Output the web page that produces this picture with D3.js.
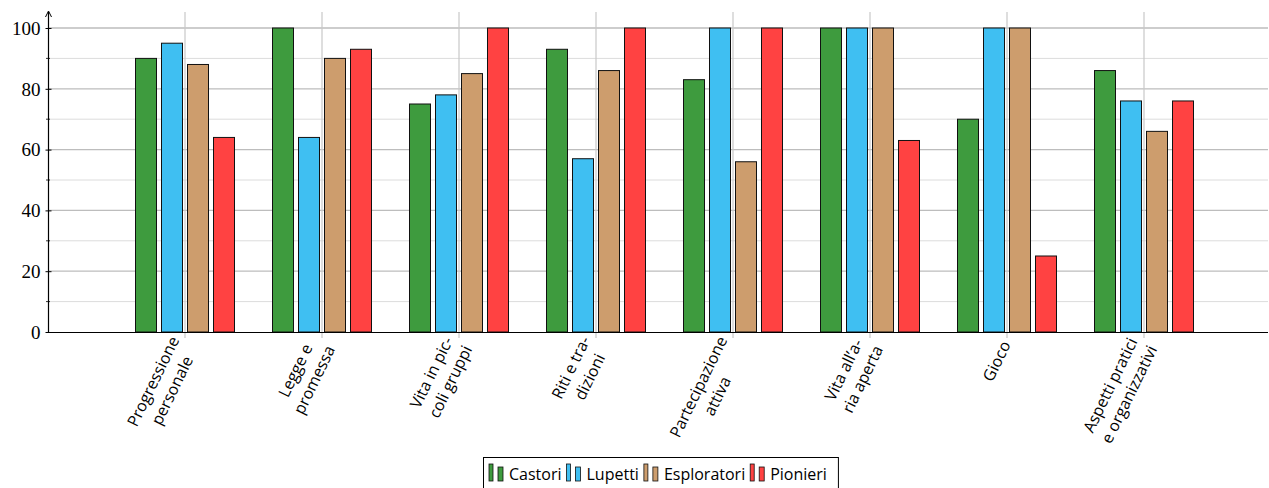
<!DOCTYPE html>
<html><head><meta charset="utf-8">
<script src="https://cdn.jsdelivr.net/npm/d3@7"></script>
<style>body{margin:0;background:#fff}svg{display:block}</style>
</head><body>
<svg id="c" width="1269" height="488"></svg>
<script>
const categories = [
  ["Progressione","personale"],
  ["Legge e","promessa"],
  ["Vita in pic-","coli gruppi"],
  ["Riti e tra-","dizioni"],
  ["Partecipazione","attiva"],
  ["Vita all’a-","ria aperta"],
  ["Gioco"],
  ["Aspetti pratici","e organizzativi"]
];
const seriesNames = ["Castori","Lupetti","Esploratori","Pionieri"];
const castori     = [90, 100, 75, 93, 83, 100, 70, 86];
const lupetti     = [95, 64, 78, 57, 100, 100, 100, 76];
const esploratori = [88, 90, 85, 86, 56, 100, 100, 66];
const pionieri    = [64, 93, 100, 100, 100, 63, 25, 76];
const yTicks = [0, 20, 40, 60, 80, 100];
const yMinor = [10, 30, 50, 70, 90];

(function(){
const series = [castori, lupetti, esploratori, pionieri];
const colors = ["#3e9b3e", "#3fbff2", "#cd9d6d", "#ff4242"];

const svg = d3.select("#c");
const pL = 48, pR = 1268, pT = 28, pB = 332;
const x = d3.scaleLinear().domain([-1, 8]).range([pL, pL + 137 * 9]);
const y = d3.scaleLinear().domain([0, 100]).range([pB, pT]);

svg.append("g").selectAll("line").data(yMinor).join("line")
  .attr("x1", pL).attr("x2", pR).attr("y1", d => y(d)).attr("y2", d => y(d))
  .attr("stroke", "#dcdcdc").attr("stroke-width", 1);
svg.append("g").selectAll("line").data(yTicks.filter(d => d > 0)).join("line")
  .attr("x1", pL).attr("x2", pR).attr("y1", d => y(d)).attr("y2", d => y(d))
  .attr("stroke", "#bdbdbd").attr("stroke-width", 1.3);
svg.append("g").selectAll("line").data(d3.range(categories.length)).join("line")
  .attr("x1", d => x(d)).attr("x2", d => x(d)).attr("y1", 12).attr("y2", pB + 6)
  .attr("stroke", "#c8c8c8").attr("stroke-width", 1.2);

const bw = 21, stride = 26;
const offsets = [-1.5, -0.5, 0.5, 1.5];
series.forEach((vals, s) => {
  svg.append("g").selectAll("rect").data(vals).join("rect")
    .attr("x", (d, i) => x(i) + offsets[s] * stride - bw / 2)
    .attr("y", d => y(d))
    .attr("width", bw)
    .attr("height", d => y(0) - y(d))
    .attr("fill", colors[s])
    .attr("stroke", "#111").attr("stroke-width", 1);
});

const yAxis = d3.axisLeft(y).tickValues(yTicks).tickSize(3).tickFormat(d3.format("d"));
const ga = svg.append("g").attr("transform", `translate(${pL + 0.5},0)`).call(yAxis);
ga.select(".domain").remove();
ga.selectAll(".tick line").attr("x2", 3).attr("x1", -3).attr("stroke", "#000");
ga.selectAll(".tick text").attr("x", -8).attr("dy", "0.33em")
  .attr("font-family", "'Liberation Serif', 'DejaVu Serif', serif").attr("font-size", 19).attr("fill", "#000");
svg.append("g").selectAll("line").data(yMinor).join("line")
  .attr("x1", pL - 2).attr("x2", pL + 2).attr("y1", d => y(d)).attr("y2", d => y(d))
  .attr("stroke", "#000").attr("stroke-width", 0.8);

svg.append("line").attr("x1", pL + 0.5).attr("x2", pL + 0.5).attr("y1", pB).attr("y2", 12)
  .attr("stroke", "#000").attr("stroke-width", 1.2);
svg.append("path").attr("d", `M${pL - 2.5},${17} L${pL + 0.5},${11} L${pL + 3.5},${17}`)
  .attr("fill", "none").attr("stroke", "#000").attr("stroke-width", 1);
svg.append("line").attr("x1", pL).attr("x2", pR).attr("y1", pB + 0.5).attr("y2", pB + 0.5)
  .attr("stroke", "#000").attr("stroke-width", 1.2);

// category labels: rotated, anchor = east-middle of the text block at the tick
const fs = 16, lh = 21;
categories.forEach((lines, i) => {
  const g = svg.append("g").attr("transform", `translate(${x(i) - 1},${pB + 10}) rotate(-64)`);
  const n = lines.length;
  const texts = lines.map((t, k) => g.append("text").text(t)
    .attr("font-family", "'Open Sans', sans-serif").attr("font-size", fs).attr("fill", "#000")
    .attr("text-anchor", "middle").attr("dy", "0.35em").attr("y", (k - (n - 1) / 2) * lh));
  const w = d3.max(texts, t => t.node().getComputedTextLength());
  texts.forEach(t => t.attr("x", -w / 2));
});

const lg = svg.append("g");
let cx = 489;
seriesNames.forEach((n, s) => {
  const gi = lg.append("g");
  gi.append("rect").attr("x", cx).attr("y", 464).attr("width", 4).attr("height", 17)
    .attr("fill", colors[s]).attr("stroke", "#111").attr("stroke-width", 0.8);
  gi.append("rect").attr("x", cx + 9).attr("y", 467).attr("width", 5).attr("height", 14)
    .attr("fill", colors[s]).attr("stroke", "#111").attr("stroke-width", 0.8);
  const t = gi.append("text").text(n).attr("x", cx + 20).attr("y", 480)
    .attr("font-family", "'Open Sans', sans-serif").attr("font-size", 16).attr("fill", "#000");
  cx += 20 + t.node().getComputedTextLength() + 5;
});
lg.insert("rect", ":first-child").attr("x", 483.5).attr("y", 457.5).attr("width", cx - 483 + 6).attr("height", 40)
  .attr("fill", "#fff").attr("stroke", "#000").attr("stroke-width", 1);
})();
</script>
</body></html>
